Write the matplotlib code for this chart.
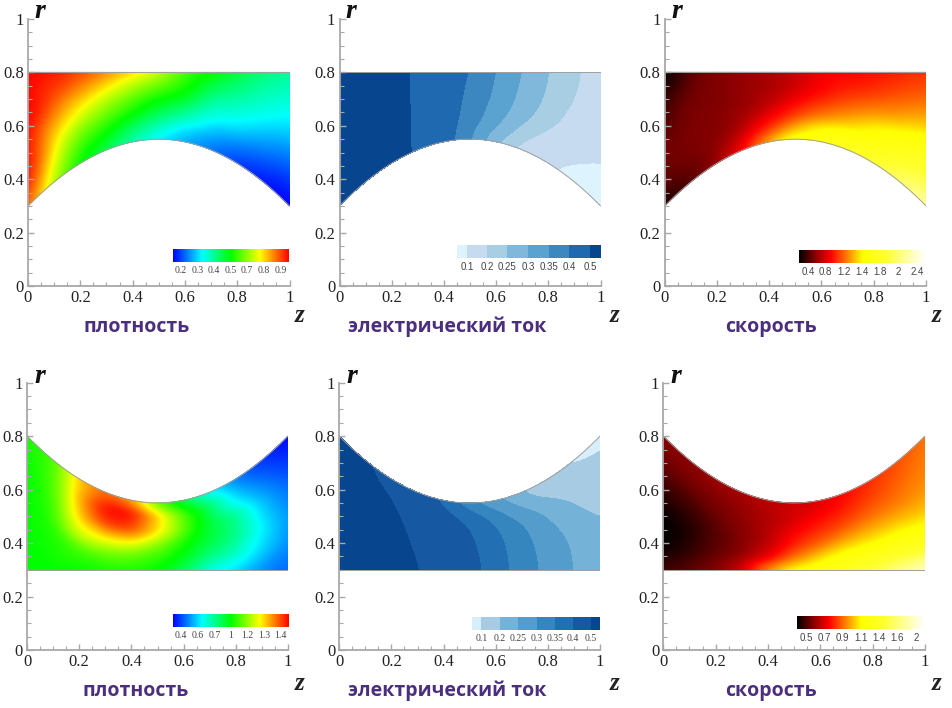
import numpy as np
import matplotlib
matplotlib.use('Agg')
import matplotlib.pyplot as plt
import matplotlib.tri as mtri
from matplotlib.colors import LinearSegmentedColormap, ListedColormap

W, H = 952, 708

# columns of the tables: z, rows of one column: share of the channel height,
# from the curved wall (top row) or from r = 0.3 (bottom row) up to the upper edge
z_col = [0, 0.1, 0.2, 0.3, 0.4, 0.5, 0.6, 0.7, 0.8, 0.9, 1]
s_row = [0, 0.2, 0.4, 0.6, 0.8, 1]
wall_top = [0.30, 0.39, 0.46, 0.51, 0.54, 0.55, 0.54, 0.51, 0.46, 0.39, 0.30]
wall_bottom = [0.80, 0.71, 0.64, 0.59, 0.56, 0.55, 0.56, 0.59, 0.64, 0.71, 0.80]

# colour scale position 0..100 read from the rainbow
density_top = [
    [92, 100, 100, 100, 100, 100],
    [68, 73, 78, 86, 93, 98],
    [50, 56, 65, 75, 85, 93],
    [42, 50, 58, 66, 76, 86],
    [33, 40, 50, 58, 67, 78],
    [24, 32, 42, 50, 60, 70],
    [17, 24, 35, 46, 53, 58],
    [12, 18, 26, 33, 42, 50],
    [6, 13, 23, 30, 37, 44],
    [2, 9, 17, 26, 32, 38],
    [0, 5, 13, 22, 29, 35],
]
density_bottom = [
    [50, 50, 50, 50, 50, 52],
    [50, 52, 53, 55, 56, 55],
    [50, 56, 72, 80, 82, 80],
    [52, 60, 75, 94, 100, 90],
    [53, 60, 76, 94, 100, 86],
    [50, 56, 65, 78, 80, 60],
    [42, 48, 53, 60, 58, 43],
    [27, 38, 44, 45, 42, 25],
    [22, 32, 38, 37, 22, 12],
    [14, 22, 25, 20, 12, 5],
    [10, 14, 15, 11, 5, 0],
]

# electric current
current_top = [
    [0.62, 0.62, 0.62, 0.62, 0.62, 0.62],
    [0.58, 0.58, 0.58, 0.58, 0.58, 0.58],
    [0.535, 0.534, 0.533, 0.532, 0.531, 0.53],
    [0.49, 0.489, 0.488, 0.487, 0.486, 0.485],
    [0.425, 0.428, 0.431, 0.434, 0.437, 0.44],
    [0.36, 0.37, 0.38, 0.385, 0.39, 0.40],
    [0.25, 0.305, 0.325, 0.34, 0.345, 0.35],
    [0.175, 0.225, 0.265, 0.28, 0.29, 0.30],
    [0.105, 0.16, 0.21, 0.235, 0.245, 0.25],
    [0.06, 0.105, 0.155, 0.185, 0.205, 0.21],
    [0.02, 0.07, 0.11, 0.145, 0.16, 0.17],
]
current_bottom = [
    [0.62, 0.62, 0.61, 0.59, 0.57, 0.55],
    [0.58, 0.57, 0.56, 0.55, 0.53, 0.505],
    [0.54, 0.53, 0.525, 0.515, 0.505, 0.46],
    [0.505, 0.497, 0.487, 0.475, 0.455, 0.43],
    [0.455, 0.45, 0.44, 0.43, 0.415, 0.385],
    [0.42, 0.417, 0.41, 0.405, 0.385, 0.305],
    [0.375, 0.372, 0.365, 0.355, 0.325, 0.25],
    [0.325, 0.323, 0.317, 0.305, 0.25, 0.20],
    [0.285, 0.28, 0.27, 0.245, 0.20, 0.13],
    [0.247, 0.245, 0.232, 0.20, 0.165, 0.07],
    [0.222, 0.22, 0.197, 0.16, 0.13, 0.05],
]

# colour scale position 0..100
speed_top = [
    [2, 9, 11, 8, 5, 0],
    [8, 11, 12, 12, 11, 9],
    [15, 13, 12, 12, 12, 12],
    [25, 20, 16, 14, 14, 14],
    [43, 30, 23, 18, 16, 16],
    [55, 42, 30, 24, 20, 20],
    [58, 50, 37, 29, 25, 24],
    [63, 54, 42, 34, 28, 25],
    [68, 57, 49, 38, 30, 26],
    [78, 66, 54, 41, 33, 28],
    [88, 72, 60, 46, 36, 30],
]
speed_bottom = [
    [6, 0, 0, 5, 10, 13],
    [9, 4, 3, 6, 11, 13],
    [12, 9, 8, 10, 12, 15],
    [20, 13, 12, 13, 14, 16],
    [40, 22, 18, 17, 17, 18],
    [52, 37, 28, 24, 21, 20],
    [56, 46, 35, 29, 25, 22],
    [62, 53, 42, 33, 28, 26],
    [70, 55, 45, 37, 32, 30],
    [82, 60, 47, 38, 35, 33],
    [95, 60, 46, 40, 38, 37],
]

labels_density_top = ['0.2', '0.3', '0.4', '0.5', '0.7', '0.8', '0.9']
labels_density_bottom = ['0.4', '0.6', '0.7', '1', '1.2', '1.3', '1.4']
labels_current = ['0.1', '0.2', '0.25', '0.3', '0.35', '0.4', '0.5']
labels_speed_top = ['0.4', '0.8', '1.2', '1.4', '1.8', '2', '2.4']
labels_speed_bottom = ['0.5', '0.7', '0.9', '1.1', '1.4', '1.6', '2']
current_levels = [-1, 0.1, 0.2, 0.25, 0.3, 0.35, 0.4, 0.5, 2]
title_density = 'плотность'
title_current = 'электрический ток'
title_speed = 'скорость'

blues_top = ['#DDF3FD', '#C6DBEF', '#A8CEE3', '#7FB8DA', '#5AA2CF', '#3D87C0', '#1F69B0', '#08458F']
blues_bottom = ['#D6EFFB', '#A6CBE3', '#74B2D8', '#539CCB', '#3585BE', '#2270B3', '#1658A2', '#08458F']
rainbow = LinearSegmentedColormap.from_list('rainbow5', ['#0000ff', '#00ffff', '#00ff00', '#ffff00', '#ff0000'])
hot = LinearSegmentedColormap.from_list('hot5', [
    (0, '#000000'), (0.13, '#8c0000'), (0.25, '#ff0000'), (0.38, '#ff8000'),
    (0.5, '#ffff00'), (0.68, '#ffff30'), (1, '#ffffff')])

GRAY = '#a8a8a8'
PURPLE = '#4b2e7e'
SERIF = 'Liberation Serif'


def px_axes(x0, x1, y_top, y_bottom):
    return fig.add_axes([x0 / W, 1 - y_bottom / H, (x1 - x0) / W, (y_bottom - y_top) / H])


def smooth(a, sigma, axis):
    # gaussian blur along one axis, edges padded, to take the reading noise out
    half = int(3 * sigma) + 1
    x = np.arange(-half, half + 1)
    k = np.exp(-0.5 * (x / sigma) ** 2)
    k = k / k.sum()
    pad = [(0, 0), (0, 0)]
    pad[axis] = (half, half)
    b = np.pad(a, pad, mode='edge')
    return np.apply_along_axis(lambda m: np.convolve(m, k, mode='valid'), axis, b)


def fine_field(values, wall, top_row, blur):
    Z, S = np.meshgrid(z_col, s_row, indexing='ij')
    tri = mtri.Triangulation(Z.ravel(), S.ravel())
    interp = mtri.LinearTriInterpolator(tri, np.array(values, dtype=float).ravel())
    zf = np.linspace(0, 1, 261)
    sf = np.linspace(0, 1, 131)
    ZF, SF = np.meshgrid(zf, sf, indexing='ij')
    v = np.ma.filled(interp(ZF, SF), np.nan)
    v = smooth(v, blur[0], 0)
    v = smooth(v, blur[1], 1)
    w = np.polyval(np.polyfit(z_col, wall, 2), ZF)
    if top_row:
        r = w + SF * (0.8 - w)
    else:
        r = 0.3 + SF * (w - 0.3)
    return ZF, r, v


def draw_panel(box, values, wall, top_row, cmap, bar, bar_labels, bar_font, title, title_x, title_y,
               r_pos, z_pos, bands=None, edges=None):
    ax = px_axes(*box)
    if bands is None:
        ZF, RF, v = fine_field(values, wall, top_row, (9, 7))
        ax.pcolormesh(ZF, RF, v, shading='gouraud', cmap=cmap, vmin=0, vmax=100)
    else:
        ZF, RF, v = fine_field(values, wall, top_row, (11, 13))
        ax.contourf(ZF, RF, v, levels=current_levels, colors=bands)

    # outline of the channel
    zz = np.linspace(0, 1, 200)
    ww = np.polyval(np.polyfit(z_col, wall, 2), zz)
    flat = 0.8 if top_row else 0.3
    ax.plot(zz, ww, color='#a0a0a0', lw=0.7)
    ax.plot([0, 1], [flat, flat], color='#a0a0a0', lw=0.7)
    ax.plot([1, 1], [ww[-1], flat], color='#c0c0c0', lw=0.7)

    ax.set_xlim(0, 1)
    ax.set_ylim(0, 1)
    ax.spines['top'].set_visible(False)
    ax.spines['right'].set_visible(False)
    for side in ['left', 'bottom']:
        ax.spines[side].set_color(GRAY)
        ax.spines[side].set_linewidth(1.3)
    ticks = [0, 0.2, 0.4, 0.6, 0.8, 1]
    tick_text = ['0', '0.2', '0.4', '0.6', '0.8', '1']
    ax.set_xticks(ticks, tick_text, fontfamily=SERIF, fontsize=12, color='#222222')
    ax.set_yticks(ticks, tick_text, fontfamily=SERIF, fontsize=12, color='#222222')
    ax.set_xticks(np.arange(0, 1.01, 0.05), minor=True)
    ax.set_yticks(np.arange(0, 1.01, 0.05), minor=True)
    ax.tick_params(which='major', direction='in', length=4, width=1, color=GRAY, pad=3)
    ax.tick_params(which='minor', direction='in', length=3, width=0.8, color=GRAY)
    ax.patch.set_alpha(0)

    # scale bar
    cax = px_axes(*bar)
    if bands is None:
        cax.imshow(np.linspace(0, 100, 256).reshape(1, -1), extent=[0, 1, 0, 1], aspect='auto',
                   cmap=cmap, vmin=0, vmax=100)
        pos = np.array([0.07, 0.21, 0.356, 0.497, 0.64, 0.784, 0.928])
    else:
        cax.pcolormesh(edges, [0, 1], np.arange(8).reshape(1, -1), cmap=ListedColormap(bands), vmin=-0.5, vmax=7.5)
        pos = edges[1:-1]
    cax.set_xlim(0, 1)
    cax.set_yticks([])
    cax.set_xticks(pos, bar_labels, fontfamily=bar_font, fontsize=7, color='#444444')
    cax.tick_params(length=0, pad=3)
    for s in cax.spines.values():
        s.set_visible(False)

    fig.text(title_x / W, 1 - title_y / H, title, ha='center', va='center', color=PURPLE,
             fontfamily='Open Sans', fontweight='bold', fontsize=14)
    fig.text(r_pos[0] / W, 1 - r_pos[1] / H, 'r', ha='center', va='center', fontfamily=SERIF,
             fontstyle='italic', fontweight='bold', fontsize=20, color='#111111')
    fig.text(z_pos[0] / W, 1 - z_pos[1] / H, 'z', ha='center', va='center', fontfamily=SERIF,
             fontstyle='italic', fontweight='bold', fontsize=18, color='#222222')


fig = plt.figure(figsize=(W / 100, H / 100), dpi=100)

edges_top = np.array([0, 0.07, 0.208, 0.347, 0.493, 0.639, 0.778, 0.924, 1.0])
edges_bottom = np.array([0, 0.073, 0.219, 0.36, 0.505, 0.648, 0.79, 0.927, 1.0])

draw_panel((28, 289.5, 19, 286), density_top, wall_top, True, rainbow, (173, 289, 249, 262),
           labels_density_top, SERIF, title_density, 137, 327, (40, 12), (300, 316))
draw_panel((339.5, 600.5, 19, 286), current_top, wall_top, True, None, (457, 601, 245, 258),
           labels_current, 'Liberation Sans', title_current, 447, 327, (351, 12), (615, 316),
           bands=blues_top, edges=edges_top)
draw_panel((664.7, 926, 19, 286), speed_top, wall_top, True, hot, (799, 926, 250, 263),
           labels_speed_top, 'Liberation Sans', title_speed, 771, 327, (677, 12), (937, 316))

draw_panel((27, 288, 382.7, 650), density_bottom, wall_bottom, False, rainbow, (173, 289, 614, 627),
           labels_density_bottom, SERIF, title_density, 136, 691, (40, 377), (300, 684))
draw_panel((339.3, 600, 382.7, 650), current_bottom, wall_bottom, False, None, (472, 600, 617, 630),
           labels_current, SERIF, title_current, 447, 691, (352, 377), (615, 684),
           bands=blues_bottom, edges=edges_bottom)
draw_panel((663.3, 925, 382.7, 650), speed_bottom, wall_bottom, False, hot, (797, 925, 616, 629),
           labels_speed_bottom, 'Liberation Sans', title_speed, 771, 691, (676, 377), (937, 684))

fig.savefig('out.png', dpi=100)
